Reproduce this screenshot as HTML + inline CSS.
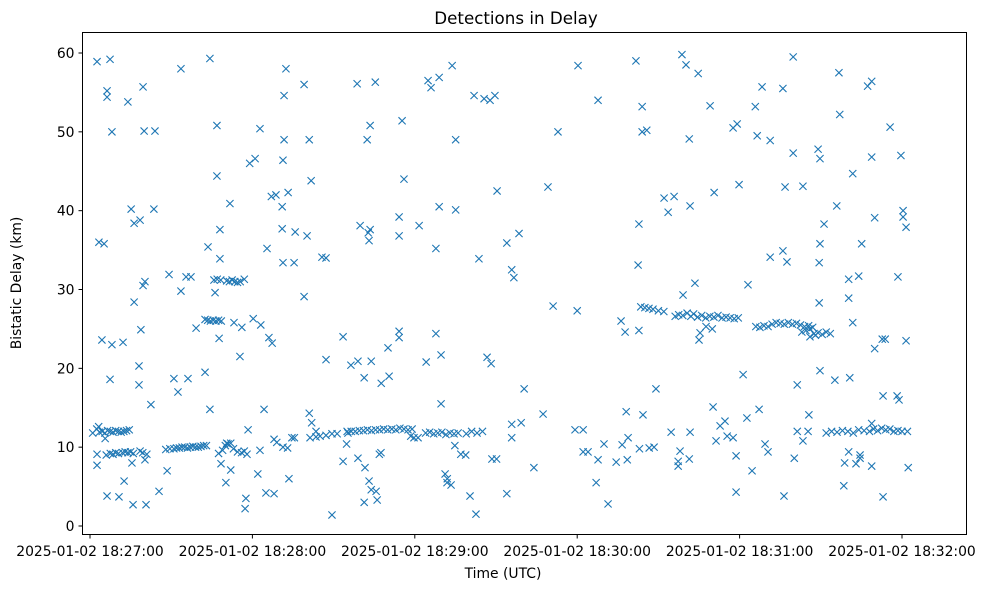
<!DOCTYPE html>
<html><head><meta charset="utf-8"><style>
html,body{margin:0;padding:0;background:#fff;}
svg{display:block;font-family:"DejaVu Sans","Liberation Sans",sans-serif;}
</style></head><body>
<svg id="chart" width="983" height="590" viewBox="0 0 983 590" xmlns="http://www.w3.org/2000/svg">
<rect width="983" height="590" fill="#fff"/>
<text x="516" y="24" text-anchor="middle" font-size="16.7">Detections in Delay</text>
<g id="marks"></g>
<rect x="82.5" y="32.5" width="884" height="502" fill="none" stroke="#000" stroke-width="1"/>
<g id="xaxis"></g>
<g id="yaxis"></g>
<text x="503" y="578" text-anchor="middle" font-size="13.9">Time (UTC)</text>
<text transform="translate(21,283) rotate(-90)" text-anchor="middle" font-size="13.9">Bistatic Delay (km)</text>
</svg>
<script>
// seconds after 2025-01-02 18:27:00
const xTickSeconds = [0, 60, 120, 180, 240, 300];
const xTickLabels = ["2025-01-02 18:27:00","2025-01-02 18:28:00","2025-01-02 18:29:00","2025-01-02 18:30:00","2025-01-02 18:31:00","2025-01-02 18:32:00"];
const yTicks = [0, 10, 20, 30, 40, 50, 60];

const times = [
2.6,7.4,6.3,6.3,8.1,3.3,5.2,4.4,8.1,12.2,7.4,2.6,2.6,6.3,10.7,12.6,5.6,
1,2.5,3.5,4.5,5.5,6.5,7.5,8.5,9.5,10.5,11.5,12.5,13.5,14.5,3.2,
6,7.5,8.5,9.5,10.5,12,13,14,15,16,18.5,19.5,21,
15.2,16.3,18.5,16.3,14.0,19.6,20,24,23.6,19.6,20.3,18.8,18.1,18.1,22.5,15.5,15.9,20.7,25.5,28.5,20.3,
28,29.5,31,32,33,34,35,36,37,38,39,40,41,42,43,
29.2,33.6,35.5,37.3,33.6,31,32.5,36.2,39.2,42.5,44.3,46.9,46.9,48,48,51.7,43.6,46.2,44.3,
45.8,47,48.3,50.5,51.5,52.5,53.5,54.5,55.5,57,
42.5,43.5,44.5,45.5,46.5,47.5,48.5,
47.7,53.2,55.4,56.1,58.4,57.6,57.3,52,50.2,48.4,
47.5,49,50,51,52,53,54.5,56,57,58,50.5,
59,61,62.8,60.3,63.1,
65.4,67,68.7,72.4,79.1,71.7,71.7,73.2,71.3,71,71.3,75.4,75.8,71,80.2,81,81.7,85.7,87.2,79.1,66.1,67.3,64.3,
68,69,71.3,73,74.6,75.5,65,68,73.5,62,62.8,81,81.9,83.5,81.3,85,87.2,89.4,83.5,87.2,89.4,93.5,93.5,91.3,
95.3,96.5,98,99.5,101,102.5,104,105.5,107,108.5,110,111.5,113,114.5,116,117.5,119,
98.7,105.4,103.5,102.4,99.8,102.8,103.5,103.1,103.9,99,96.4,101.3,107.6,110.5,110.1,114.2,114.2,114.2,115.3,116,114.2,
99,101.6,103.1,103.9,101.3,106.1,105.7,106.9,107.5,94.8,95,
118.5,119.7,121.2,121.6,
124.9,126,129,133.8,135.1,129,127.8,135.1,124.2,127.8,129.7,129.7,131.2,131.9,133.4,132,134.8,137,138.8,140.4,142.6,
124,125.5,127,128.5,130,131.5,133,134.5,136,139,141,143,145,
145.6,147.8,149.6,141.9,143.7,150.4,146.7,148.2,148.5,150.2,
154,155.8,156.6,158.5,154,155.8,155.8,159.3,160.4,
164,167.4,169.2,171.1,172.9,180.3,180,179.2,182.2,182.2,184,
187.7,187,187.7,189.9,191.4,194.4,196.2,197.7,196.6,198.1,198.8,198.5,
201.7,202.8,202.5,204,204,205.7,202.8,204.3,203,206.6,208.4,209.1,212.1,213.6,215.8,
203.5,205,206.5,208,210,212,
218.7,220.2,224.7,229.1,221.4,230.6,221.7,219.1,223.5,220.6,216.2,225.4,225,227.6,229.9,
217.5,219,222,223,224.5,226,227.5,229,230.5,232,233.5,235,236.5,238,239.5,
218,217.3,217.3,214.7,221.7,221.4,230.2,231.3,232.8,234.6,235.4,237.6,238.7,238.7,237.6,239.1,239.8,
241.3,243.1,242.7,244.6,246.5,247.2,248.3,251.3,251.3,249.4,250.5,245.8,
246,247.5,249,250.5,252,253.5,255,256.5,258,259.5,261,262.5,264,265.5,267,
263,264.5,266,267.5,269,270.5,272,273.5,266,268,
256,256,256.8,257.5,259.8,259.8,260.2,261.3,261.3,256.4,263.4,263.4,265.3,265.6,269,269.7,269.7,269.4,269.4,269.7,271.2,
275.9,276.7,277,275.2,278.5,280.7,280.3,280.3,281.8,284,285.1,281.8,280.3,278.8,283,284.5,284.5,
272,274,276,278,280,282,284,286,288,289.5,291,292.5,294,295.5,297,298.5,300,302,
287.3,288.8,288.8,289.9,289.9,288.8,288.8,293,292.7,293.8,293,295.6,298.2,298.9,298.5,299.6,300.4,300.4,301.5,301.5,302.3
];
const delays = [
58.9,59.2,55.2,54.4,50.0,36.0,35.8,23.6,23.0,23.3,18.6,9.1,7.7,3.8,3.7,5.7,11.1,
11.8,12.3,11.9,12.0,11.8,12.1,12.0,11.9,12.1,12.0,11.9,12.0,12.1,12.2,12.6,
9.0,9.2,9.1,9.3,9.2,9.3,9.4,9.3,9.4,9.2,9.5,9.3,9.1,
40.2,38.4,38.8,28.4,53.8,55.7,50.1,50.1,40.2,30.5,31.0,24.9,20.3,17.9,15.4,8.0,2.7,2.7,4.4,7.0,8.4,
9.7,9.8,9.8,9.9,9.9,10.0,10.0,9.9,10.0,10.1,10.0,10.0,10.1,10.2,10.2,
31.9,58.0,31.6,31.6,29.8,18.7,17.0,18.7,25.1,19.5,59.3,50.8,44.4,37.6,33.9,40.9,35.4,29.6,14.8,
31.2,31.3,31.2,31.1,31.0,31.2,31.0,30.9,31.0,31.3,
26.2,26.1,26.0,26.1,26.0,26.1,26.0,
23.8,25.8,21.5,25.2,12.2,3.5,2.2,7.1,5.5,7.9,
9.2,9.6,10.2,10.4,10.5,9.8,9.4,9.3,9.5,9.1,10.5,
46.0,46.6,50.4,26.3,25.5,
35.2,41.8,42.0,58.0,56.0,54.6,49.0,42.3,46.4,37.7,33.4,33.4,37.3,40.5,36.8,49.0,43.8,34.1,34.0,29.1,23.9,23.2,14.8,
11.0,10.6,10.0,9.9,11.2,11.2,4.2,4.1,6.0,6.6,9.6,14.3,13.1,11.3,11.2,11.4,11.5,11.7,12.0,21.1,1.4,8.2,24.0,11.7,
11.8,12.0,12.0,12.1,12.1,12.2,12.1,12.2,12.2,12.3,12.2,12.3,12.2,12.4,12.3,12.2,12.3,
56.1,56.3,50.8,49.0,38.1,37.2,37.6,36.2,20.9,20.9,20.4,18.8,18.1,19.0,22.6,24.7,23.9,39.2,51.4,44.0,36.8,
8.6,7.4,5.7,4.6,3.0,3.3,4.4,9.1,9.3,10.4,12.0,
11.4,11.2,11.2,38.1,
56.5,55.6,56.9,58.4,49.0,40.5,35.2,40.1,20.8,24.4,21.7,15.5,6.6,5.5,5.2,6.0,10.2,9.1,9.0,3.8,1.5,
11.8,11.9,11.7,11.8,11.9,11.6,11.8,11.7,11.8,11.7,12.0,11.8,12.0,
54.2,54.0,54.6,54.6,33.9,42.5,21.4,20.6,8.5,8.5,
35.9,32.5,31.5,37.1,4.1,11.2,12.9,13.1,17.4,
7.4,14.2,43.0,27.9,50.0,58.4,27.3,12.2,12.2,9.4,9.4,
54.0,5.5,8.4,10.4,2.8,8.1,26.0,24.6,10.3,14.5,11.2,8.4,
59.0,38.3,33.1,53.2,50.0,50.2,24.8,14.1,9.8,9.9,10.0,17.4,41.6,39.8,41.8,
27.8,27.7,27.6,27.5,27.3,27.2,
59.8,58.5,57.4,53.3,49.1,42.3,40.6,29.3,30.8,27.0,26.6,24.5,23.6,25.3,25.0,
26.8,26.7,26.6,26.9,26.5,26.7,26.4,26.6,26.5,26.7,26.4,26.5,26.4,26.3,26.4,
9.5,8.2,7.6,11.9,11.9,8.5,15.1,10.8,12.7,13.3,11.4,11.2,8.9,4.3,50.5,51.0,43.3,
19.2,30.6,13.7,7.0,49.5,14.8,55.7,48.9,34.1,10.4,9.4,53.2,
25.3,25.2,25.4,25.3,25.6,25.8,25.7,25.6,25.8,25.6,25.7,25.5,25.3,25.4,25.2,
24.6,24.8,25.0,24.4,24.5,24.3,24.6,24.4,24.0,24.2,
55.5,34.9,43.0,33.5,59.5,47.3,8.6,17.9,12.0,3.8,43.1,10.8,12.0,14.1,47.8,46.6,35.8,33.4,28.3,19.7,38.3,
40.6,57.5,52.2,18.5,5.1,18.8,28.9,31.3,44.7,31.7,35.8,25.8,9.4,8.0,7.9,8.6,9.0,
11.8,12.0,11.9,12.1,12.0,11.8,12.2,12.1,12.0,12.3,12.1,12.4,12.2,12.3,12.0,12.1,12.0,12.0,
55.8,56.4,46.8,39.1,22.5,7.6,13.0,16.5,23.7,23.7,3.7,50.6,16.5,16.0,31.6,47.0,40.0,39.2,37.9,23.5,7.4
];

const L=82.5,R=966.5,T=32.5,B=534.5;
function xs(s){return 90 + s*(902-90)/300;}
function ys(v){return 526 - v*(526-53)/60;}
const NS="http://www.w3.org/2000/svg";
const marks=document.getElementById('marks');
const n=Math.min(times.length,delays.length);
for(let i=0;i<n;i++){
  const cx=xs(times[i]), cy=ys(delays[i]), r=3.6;
  const p=document.createElementNS(NS,'path');
  p.setAttribute('d',`M${cx-r},${cy-r}L${cx+r},${cy+r}M${cx-r},${cy+r}L${cx+r},${cy-r}`);
  p.setAttribute('stroke','#1f77b4');
  p.setAttribute('stroke-width','1.1');
  p.setAttribute('fill','none');
  
  
  marks.appendChild(p);
}
const xa=document.getElementById('xaxis');
xTickSeconds.forEach((s,i)=>{
  const x=xs(s);
  const t=document.createElementNS(NS,'line');
  t.setAttribute('x1',x);t.setAttribute('x2',x);t.setAttribute('y1',B);t.setAttribute('y2',B+4);
  t.setAttribute('stroke','#000');
  
  
  xa.appendChild(t);
  const tx=document.createElementNS(NS,'text');
  tx.setAttribute('x',x);tx.setAttribute('y',556);tx.setAttribute('text-anchor','middle');tx.setAttribute('font-size','13.9');
  tx.textContent=xTickLabels[i];
  
  
  xa.appendChild(tx);
});
const ya=document.getElementById('yaxis');
yTicks.forEach(v=>{
  const y=ys(v);
  const t=document.createElementNS(NS,'line');
  t.setAttribute('x1',L-4);t.setAttribute('x2',L);t.setAttribute('y1',y);t.setAttribute('y2',y);
  t.setAttribute('stroke','#000');
  
  
  ya.appendChild(t);
  const tx=document.createElementNS(NS,'text');
  tx.setAttribute('x',L-8);tx.setAttribute('y',y+5);tx.setAttribute('text-anchor','end');tx.setAttribute('font-size','13.9');
  tx.textContent=v;
  
  
  ya.appendChild(tx);
});
</script>
</body></html>
